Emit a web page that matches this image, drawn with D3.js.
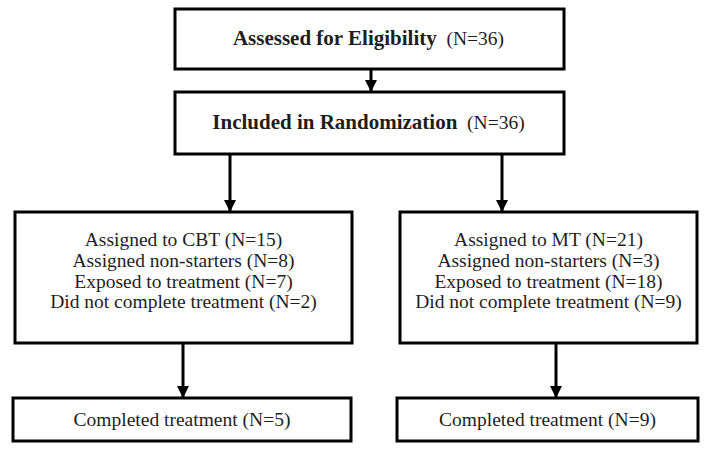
<!DOCTYPE html>
<html>
<head>
<meta charset="utf-8">
<script src="https://cdn.jsdelivr.net/npm/d3@7"></script>
</head>
<body style="margin:0">
<svg id="flow" width="710" height="452"></svg>
<script>
/*** DATA ***/
var stageLabels = ["Assessed for Eligibility", "Included in Randomization"];
var stageN = [36, 36];
var armNames = ["CBT", "MT"];
var assignedN = [15, 21];
var nonStarterN = [8, 3];
var exposedN = [7, 18];
var notCompletedN = [2, 9];
var completedN = [5, 9];

/*** LAYOUT ***/
var svg = d3.select("#flow"),
    stroke = 3,
    fontSize = 19.5,
    textColor = "#1e1e1e";

var defs = svg.append("defs");
defs.append("marker")
  .attr("id", "head")
  .attr("viewBox", "0 0 12 12")
  .attr("refX", 12).attr("refY", 6)
  .attr("markerWidth", 12).attr("markerHeight", 12)
  .attr("markerUnits", "userSpaceOnUse")
  .attr("orient", "auto")
  .append("path").attr("d", "M0,0L12,6L0,12Z").attr("fill", "#000");

// top boxes
var topBox = {x: 175, w: 389, rows: [{y: 9, h: 60}, {y: 92, h: 62}]};
// arm boxes (group + completed)
var armBoxes = [
  {x: 15, w: 337, arrowIn: 230, arrowOut: 183, bx: 13, bw: 338},
  {x: 400, w: 297, arrowIn: 502, arrowOut: 556, bx: 397, bw: 301}
];
var armY = 212, armH = 131, compY = 398, compH = 43;

function box(x, y, w, h) {
  svg.append("rect")
    .attr("x", x).attr("y", y).attr("width", w).attr("height", h)
    .attr("fill", "#fff").attr("stroke", "#000").attr("stroke-width", stroke);
}

function arrow(x, y1, y2) {
  svg.append("line")
    .attr("x1", x).attr("x2", x).attr("y1", y1).attr("y2", y2)
    .attr("stroke", "#000").attr("stroke-width", stroke)
    .attr("marker-end", "url(#head)");
}

function label(x, y) {
  return svg.append("text")
    .attr("x", x).attr("y", y)
    .attr("dy", "0.33em")
    .attr("text-anchor", "middle")
    .style("font-family", "Liberation Serif")
    .style("font-size", fontSize + "px")
    .attr("fill", textColor);
}

// Stage boxes
stageLabels.forEach(function(lbl, i) {
  var r = topBox.rows[i];
  box(topBox.x, r.y, topBox.w, r.h);
  var t = label(topBox.x + topBox.w / 2 - 1, r.y + r.h / 2);
  t.append("tspan").attr("font-weight", "bold").style("font-size", "21px").text(lbl);
  t.append("tspan").attr("dx", "0.5em").text("(N=" + stageN[i] + ")");
});
arrow(topBox.x + topBox.w / 2 + 1.5, topBox.rows[0].y + topBox.rows[0].h + 1, topBox.rows[1].y);

// Arm boxes
armNames.forEach(function(arm, i) {
  var b = armBoxes[i];
  var r = topBox.rows[1];
  arrow(b.arrowIn, r.y + r.h, armY);
  box(b.x, armY, b.w, armH);
  var lines = [
    "Assigned to " + arm + " (N=" + assignedN[i] + ")",
    "Assigned non-starters (N=" + nonStarterN[i] + ")",
    "Exposed to treatment (N=" + exposedN[i] + ")",
    "Did not complete treatment (N=" + notCompletedN[i] + ")"
  ];
  var y = d3.scalePoint().domain(d3.range(lines.length)).range([armY + 28, armY + 90]);
  lines.forEach(function(d, j) {
    label(b.x + b.w / 2, y(j)).text(d);
  });

  arrow(b.arrowOut, armY + armH, compY);
  box(b.bx, compY, b.bw, compH);
  label(b.bx + b.bw / 2, compY + compH / 2)
    .text("Completed treatment (N=" + completedN[i] + ")");
});
</script>
</body>
</html>
